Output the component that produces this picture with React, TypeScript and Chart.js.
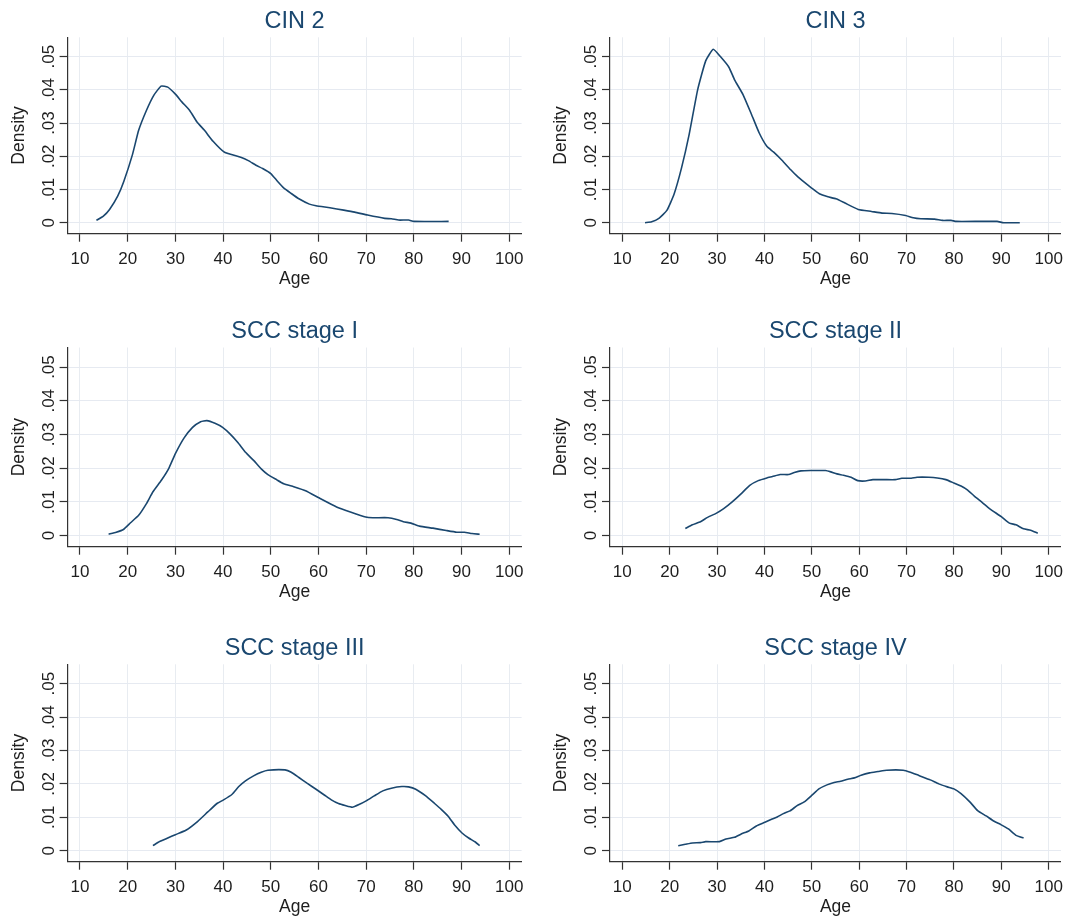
import React, { useEffect, useRef } from "react";
import { Chart, registerables } from "chart.js";

Chart.register(...registerables);

const FONT = "'Liberation Sans', Arial, Helvetica, sans-serif";
const NAVY = "#1a476f";

const xTicks = [10, 20, 30, 40, 50, 60, 70, 80, 90, 100];
const yTicks = [0, 0.01, 0.02, 0.03, 0.04, 0.05];
const yTickLabels = ["0", ".01", ".02", ".03", ".04", ".05"];

const cin2Age = [13.45, 14.9, 16.2, 17.9, 19.2, 21.0, 22.3, 23.9, 25.5, 27.0, 28.4, 30.0, 31.4, 33.0, 34.5, 36.1, 37.9, 40.3, 43.7, 45.3, 46.9, 48.3, 50.0, 51.4, 52.7, 54.3, 55.9, 58.1, 59.5, 62.4, 65.3, 67.6, 70.3, 73.9, 75.3, 76.8, 78.9, 80.0, 87.3];
const cin2Density = [0.0007, 0.002, 0.004, 0.008, 0.0125, 0.0205, 0.0278, 0.0337, 0.0384, 0.0411, 0.0408, 0.0387, 0.0363, 0.0338, 0.0304, 0.0278, 0.0245, 0.0212, 0.0197, 0.0187, 0.0173, 0.0163, 0.0148, 0.0125, 0.0105, 0.0088, 0.0072, 0.0056, 0.0051, 0.0045, 0.0038, 0.0032, 0.0023, 0.0013, 0.0012, 0.0008, 0.0008, 0.0004, 0.0004];

const cin3Age = [14.8, 16.2, 17.8, 19.4, 20.9, 22.5, 24.1, 25.9, 27.6, 29.2, 30.7, 32.5, 33.7, 35.5, 37.3, 38.9, 40.5, 41.9, 43.7, 45.5, 46.9, 48.4, 49.9, 51.6, 53.4, 55.1, 56.9, 59.8, 62.6, 64.8, 66.9, 69.8, 71.4, 73.0, 75.9, 77.6, 79.4, 80.5, 89.1, 90.5, 93.9];
const cin3Density = [0.0, 0.0003, 0.0014, 0.0037, 0.0085, 0.0165, 0.0265, 0.04, 0.0487, 0.0522, 0.05, 0.0468, 0.043, 0.0385, 0.0325, 0.027, 0.023, 0.0213, 0.0188, 0.016, 0.014, 0.0122, 0.0105, 0.0087, 0.0078, 0.0072, 0.006, 0.004, 0.0034, 0.0029, 0.0028, 0.0022, 0.0015, 0.0012, 0.0011, 0.0007, 0.0007, 0.0004, 0.0004, 0.0, 0.0];

const scc1Age = [16.0, 17.6, 19.1, 20.6, 22.3, 23.9, 25.3, 27.1, 28.6, 30.0, 31.8, 33.6, 35.3, 36.6, 38.3, 39.9, 41.5, 43.1, 44.7, 46.4, 48.0, 49.4, 51.2, 52.7, 54.8, 57.3, 60.1, 63.8, 66.7, 69.9, 71.4, 74.6, 76.4, 77.8, 79.4, 81.2, 84.0, 86.8, 89.0, 90.6, 92.2, 93.8];
const scc1Density = [0.0004, 0.001, 0.0018, 0.0038, 0.006, 0.0094, 0.013, 0.0165, 0.0199, 0.0243, 0.0289, 0.0321, 0.0338, 0.0341, 0.0333, 0.0321, 0.0301, 0.0276, 0.0247, 0.0223, 0.0198, 0.0181, 0.0166, 0.0154, 0.0145, 0.0133, 0.0112, 0.0085, 0.007, 0.0055, 0.0053, 0.0053, 0.0048, 0.0041, 0.0037, 0.0028, 0.0022, 0.0015, 0.001, 0.001, 0.0006, 0.0004];

const scc2Age = [23.3, 24.8, 26.5, 28.0, 29.8, 31.4, 33.2, 35.0, 36.9, 38.7, 40.5, 41.7, 43.3, 45.1, 46.3, 47.7, 49.7, 52.9, 54.0, 55.3, 56.7, 58.3, 59.7, 61.3, 62.9, 65.4, 67.6, 69.0, 71.0, 72.2, 74.7, 76.5, 78.3, 80.0, 81.5, 82.9, 84.3, 86.0, 87.5, 90.0, 91.7, 93.1, 94.7, 96.2, 97.7];
const scc2Density = [0.0021, 0.0032, 0.0041, 0.0054, 0.0066, 0.008, 0.01, 0.0123, 0.0149, 0.0163, 0.0171, 0.0175, 0.0181, 0.0181, 0.0187, 0.0192, 0.0193, 0.0193, 0.0189, 0.0183, 0.0179, 0.0173, 0.0163, 0.0162, 0.0166, 0.0166, 0.0166, 0.017, 0.017, 0.0173, 0.0173, 0.0171, 0.0166, 0.0156, 0.0147, 0.0135, 0.0117, 0.0098, 0.008, 0.0056, 0.0037, 0.0032, 0.002, 0.0016, 0.0007];

const scc3Age = [25.3, 26.8, 28.4, 30.0, 32.2, 34.7, 36.8, 38.8, 40.1, 41.9, 43.3, 44.7, 46.4, 48.0, 49.4, 53.0, 54.3, 55.9, 57.6, 59.5, 61.3, 62.7, 64.2, 65.6, 67.1, 68.5, 70.1, 71.7, 73.5, 75.3, 77.5, 78.9, 80.4, 82.5, 84.3, 85.8, 87.2, 88.6, 90.1, 91.5, 92.9, 93.8];
const scc3Density = [0.0015, 0.0028, 0.0038, 0.0048, 0.0061, 0.0088, 0.0116, 0.0142, 0.0152, 0.0169, 0.0192, 0.0209, 0.0224, 0.0235, 0.0241, 0.0242, 0.0235, 0.0219, 0.0202, 0.0184, 0.0166, 0.0152, 0.0141, 0.0135, 0.013, 0.0138, 0.015, 0.0164, 0.0179, 0.0187, 0.0192, 0.0191, 0.0184, 0.0164, 0.0142, 0.0123, 0.0103, 0.0076, 0.0053, 0.0038, 0.0026, 0.0015];

const scc4Age = [21.8, 23.3, 24.8, 26.5, 27.6, 30.5, 31.9, 33.7, 35.1, 36.7, 38.3, 40.1, 41.5, 42.7, 44.0, 45.4, 46.9, 48.4, 50.1, 51.5, 53.2, 54.7, 56.1, 57.6, 59.0, 60.4, 62.2, 64.0, 65.8, 69.3, 70.8, 72.6, 75.0, 76.8, 78.6, 80.0, 81.5, 83.3, 85.0, 86.8, 88.5, 89.9, 91.5, 93.1, 94.7];
const scc4Density = [0.0015, 0.0019, 0.0023, 0.0024, 0.0027, 0.0027, 0.0035, 0.004, 0.005, 0.0059, 0.0074, 0.0085, 0.0094, 0.0101, 0.0111, 0.0119, 0.0135, 0.0146, 0.0167, 0.0185, 0.0197, 0.0204, 0.0208, 0.0214, 0.0218, 0.0226, 0.0233, 0.0237, 0.0241, 0.0241, 0.0235, 0.0225, 0.0212, 0.02, 0.0191, 0.0185, 0.0171, 0.0147, 0.012, 0.0104, 0.0088, 0.0078, 0.0065, 0.0046, 0.0038];

const panelTitles = ["CIN 2", "CIN 3", "SCC stage I", "SCC stage II", "SCC stage III", "SCC stage IV"];
const panelAges = [cin2Age, cin3Age, scc1Age, scc2Age, scc3Age, scc4Age];
const panelDensities = [cin2Density, cin3Density, scc1Density, scc2Density, scc3Density, scc4Density];

// layout (pixels)
const COL_X = [0, 535];
const COL_W = 535;
const ROW_Y = [0, 305, 615];
const ROW_H = [305, 310, 301];
const AREA_LEFT = [67.6, 610];
const AREA_RIGHT = [521.6, 1064.5];
const AREA_TOP = [37.3, 347.5, 664.3];
const AREA_BOTTOM = [233.7, 546.7, 861.7];
const Y_W = 10;
const X_H = 50;

const overlayPlugin = {
  id: "overlay",
  afterDraw(chart: any) {
    const opts = chart.options.plugins.overlay;
    const ctx = chart.ctx;
    const a = chart.chartArea;
    const ys = chart.scales.y;
    const cx = (a.left + a.right) / 2;
    ctx.save();
    // title
    ctx.fillStyle = NAVY;
    ctx.font = `23.5px ${FONT}`;
    ctx.textAlign = "center";
    ctx.textBaseline = "middle";
    ctx.fillText(opts.title, cx, a.top - 16);
    // x title
    ctx.fillStyle = "#1e1e1e";
    ctx.font = `17.5px ${FONT}`;
    ctx.fillText("Age", cx, a.bottom + 45);
    // y title
    ctx.save();
    ctx.translate(a.left - 48.5, (a.top + a.bottom) / 2);
    ctx.rotate(-Math.PI / 2);
    ctx.fillText("Density", 0, 0);
    ctx.restore();
    // y tick labels (rotated)
    ctx.font = `17px ${FONT}`;
    yTicks.forEach((v, i) => {
      const py = ys.getPixelForValue(v);
      ctx.save();
      ctx.translate(a.left - 18.5, py);
      ctx.rotate(-Math.PI / 2);
      ctx.fillText(yTickLabels[i], 0, 0);
      ctx.restore();
    });
    ctx.restore();
  },
};

function Panel({ idx }: { idx: number }) {
  const ref = useRef<HTMLCanvasElement | null>(null);
  const col = idx % 2;
  const row = Math.floor(idx / 2);
  useEffect(() => {
    if (!ref.current) return;
    const ages = panelAges[idx];
    const dens = panelDensities[idx];
    const data = ages.map((x, i) => ({ x, y: dens[i] }));
    const chart = new Chart(ref.current, {
      type: "line",
      data: {
        datasets: [
          {
            data,
            borderColor: NAVY,
            borderWidth: 1.6,
            pointRadius: 0,
            fill: false,
            tension: 0.15,
          },
        ],
      },
      options: {
        animation: false,
        responsive: false,
        devicePixelRatio: 1,
        layout: {
          padding: {
            left: AREA_LEFT[col] - COL_X[col] - Y_W,
            right: COL_X[col] + COL_W - AREA_RIGHT[col],
            top: AREA_TOP[row] - ROW_Y[row],
            bottom: ROW_Y[row] + ROW_H[row] - AREA_BOTTOM[row] - X_H,
          },
        },
        scales: {
          x: {
            type: "linear",
            min: 7.4,
            max: 102.6,
            afterBuildTicks: (s: any) => {
              s.ticks = xTicks.map((v) => ({ value: v }));
            },
            afterFit: (s: any) => {
              s.height = X_H;
            },
            ticks: {
              font: { size: 17, family: FONT },
              color: "#1e1e1e",
              padding: 7,
              maxRotation: 0,
              minRotation: 0,
            },
            grid: {
              color: "#e8ecf1",
              lineWidth: 1,
              drawTicks: true,
              tickLength: 8,
              tickColor: "#333333",
              tickWidth: 1.2,
            },
            border: { display: true, color: "#333333", width: 1.2 },
          },
          y: {
            type: "linear",
            min: -0.0033,
            max: 0.0558,
            afterBuildTicks: (s: any) => {
              s.ticks = yTicks.map((v) => ({ value: v }));
            },
            afterFit: (s: any) => {
              s.width = Y_W;
            },
            ticks: { display: false },
            grid: {
              color: "#e6eaf1",
              lineWidth: 1,
              drawTicks: true,
              tickLength: 8,
              tickColor: "#333333",
              tickWidth: 1.2,
            },
            border: { display: true, color: "#333333", width: 1.2 },
          },
        },
        plugins: {
          legend: { display: false },
          tooltip: { enabled: false },
          title: { display: false },
          // @ts-ignore
          overlay: { title: panelTitles[idx] },
        },
      } as any,
      plugins: [overlayPlugin],
    });
    return () => chart.destroy();
  }, [idx]);
  return (
    <canvas
      ref={ref}
      width={COL_W}
      height={ROW_H[row]}
      style={{
        position: "absolute",
        left: COL_X[col],
        top: ROW_Y[row],
        width: COL_W,
        height: ROW_H[row],
      }}
    />
  );
}

export default function App() {
  return (
    <div
      style={{
        position: "absolute",
        left: 0,
        top: 0,
        width: 1070,
        height: 916,
        background: "#ffffff",
        overflow: "hidden",
      }}
    >
      {[0, 1, 2, 3, 4, 5].map((i) => (
        <Panel key={i} idx={i} />
      ))}
    </div>
  );
}
